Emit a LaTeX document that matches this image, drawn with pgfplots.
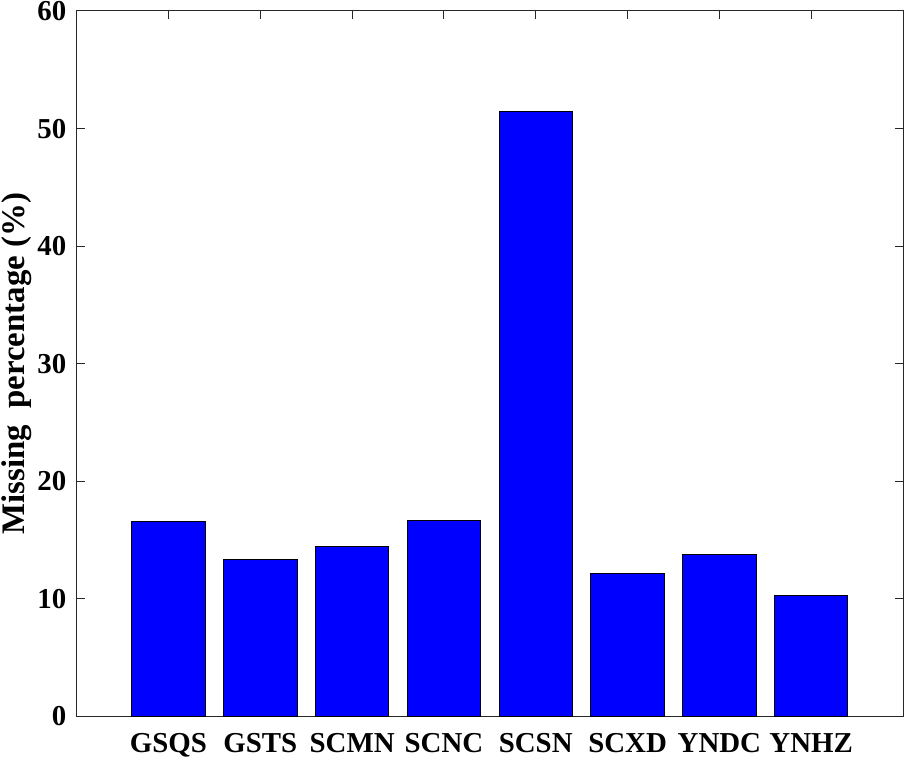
\documentclass[border=0pt]{standalone}
\usepackage{fontspec}
\setmainfont{Liberation Serif}
\usepackage{pgfplots}
\pgfplotsset{compat=1.18}
\definecolor{axgray}{RGB}{38,38,38}
\begin{document}
\begin{tikzpicture}
\begin{axis}[
  scale only axis,
  width=415pt, height=354.35pt,
  xmin=0, xmax=9, ymin=0, ymax=60,
  xtick={1,2,3,4,5,6,7,8},
  xticklabels={GSQS,GSTS,SCMN,SCNC,SCSN,SCXD,YNDC,YNHZ},
  ytick={0,10,20,30,40,50,60},
  tick align=inside,
  tick pos=both,
  major tick length=4pt,
  axis line style={axgray, line width=0.5pt},
  every tick/.style={axgray, line width=0.5pt},
  /pgf/number format/assume math mode=true,
  tick label style={font=\fontsize{14.5}{17}\selectfont\bfseries, text=black, inner sep=0pt},
  yticklabel style={xshift=-5pt},
  xticklabel style={anchor=base, yshift=-18pt},
  ylabel={Missing\ \ percentage (\%)},
  ylabel style={font=\fontsize{16.5}{19}\selectfont\bfseries, inner sep=0pt, at={(axis description cs:-0.0627,0.5)}, anchor=base},
]
\addplot[ybar, bar width=0.8, fill={rgb,255:red,0;green,0;blue,255}, draw=black, line width=0.5pt]
coordinates {(1,16.58) (2,13.32) (3,14.5) (4,16.7) (5,51.47) (6,12.18) (7,13.79) (8,10.3)};
\end{axis}
\pgfresetboundingbox
\path[use as bounding box] ([shift={(-38.5pt,-22pt)}]current axis.south west) rectangle ([shift={(0.5pt,5.5pt)}]current axis.north east);
\end{tikzpicture}
\end{document}
